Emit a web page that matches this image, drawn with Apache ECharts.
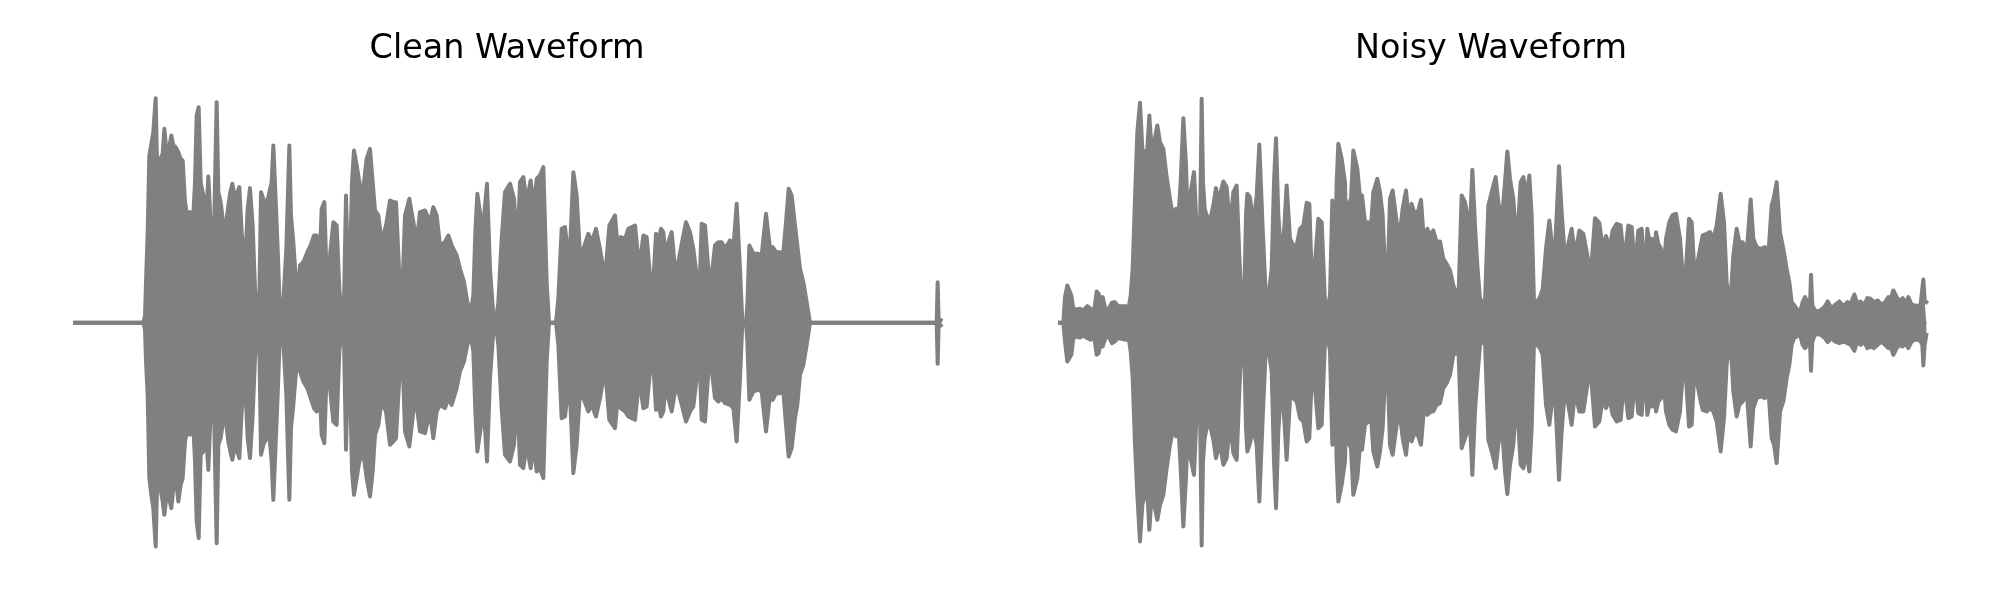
<!DOCTYPE html>
<html><head><meta charset="utf-8">
<script src="https://cdn.jsdelivr.net/npm/echarts@6/dist/echarts.min.js"></script>
<style>html,body{margin:0;padding:0;background:#fff}#c{width:2000px;height:600px}</style>
</head><body><div id="c"></div>
<script>
const titles = ['Clean Waveform', 'Noisy Waveform'];

// Clean waveform envelope (frame index, upper peak, lower peak)
const cleanT = [0,205,210,213,218,223,229,235,242,248,253,258,263,268,275,282,289,295,302,310,317,323,330,338,345,353,360,365,371,377,385,393,400,407,415,420,425,430,437,445,453,460,466,472,480,487,493,500,510,518,525,533,540,547,553,558,565,575,583,590,595,601,608,615,621,626,634,639,643,648,655,663,669,675,685,697,707,717,725,733,740,748,755,765,775,785,793,800,806,810,813,818,825,831,837,845,853,860,867,875,885,893,900,910,920,933,945,955,963,973,981,990,1003,1015,1025,1035,1050,1065,1075,1085,1095,1110,1120,1130,1145,1155,1167,1177,1187,1195,1201,1207,1217,1227,1236,1245,1255,1262,1270,1280,1290,1305,1317,1327,1335,1345,1355,1367,1377,1385,1395,1405,1415,1422,1443,1450,1460,1470,1483,1495,1505,1515,1525,1540,1550,1563,1575,1590,1603,1620,1630,1637,1650,1660,1680,1693,1705,1715,1725,1735,1743,1750,1758,1765,1773,1780,1790,1800,1810,1823,1833,1845,1855,1865,1873,1880,1890,1900,1910,1920,1930,1940,1950,1965,1975,1985,1995,2002,2013,2017,2023,2035,2050,2060,2073,2085,2093,2103,2115,2125,2133,2141,2150,2160,2167,2175,2185,2195,2205,2585,2588,2591,2597];
const cleanUpper = [0,0,20,122,272,502,537,572,674,392,372,497,507,582,507,522,562,532,527,512,492,487,362,312,332,282,422,622,647,422,382,302,439,292,162,422,662,392,362,297,292,352,392,417,372,392,407,272,162,342,404,292,102,22,72,392,372,352,392,422,532,392,222,22,0,82,222,392,532,322,242,122,82,172,182,212,232,262,262,162,342,362,132,202,302,292,102,22,0,222,382,182,162,422,517,472,422,372,422,492,522,422,337,322,242,292,367,362,362,142,62,322,372,302,242,332,337,302,347,322,232,242,262,232,202,162,122,62,32,82,272,387,317,317,417,162,22,0,62,252,392,417,372,222,422,437,362,427,342,432,442,467,122,0,0,72,282,287,172,452,382,202,222,267,242,282,222,132,292,322,202,257,252,282,292,162,262,257,142,122,267,242,282,272,172,242,272,162,182,252,302,272,222,142,82,297,292,162,142,232,242,242,222,247,222,357,162,0,0,52,232,207,207,202,327,222,227,212,212,212,302,402,382,292,232,162,122,62,0,0,122,0,8];
const cleanLower = [0,0,-20,-116,-216,-466,-516,-556,-671,-416,-466,-506,-536,-576,-516,-526,-556,-496,-456,-536,-486,-466,-356,-316,-336,-266,-416,-596,-646,-396,-386,-326,-441,-266,-146,-416,-661,-366,-346,-291,-296,-356,-386,-411,-366,-386,-406,-266,-166,-346,-406,-276,-106,-26,-66,-396,-366,-346,-336,-416,-531,-386,-216,-26,0,-76,-216,-396,-531,-316,-246,-146,-96,-146,-176,-196,-226,-256,-266,-166,-336,-361,-146,-196,-296,-306,-86,-26,0,-216,-381,-166,-166,-446,-516,-466,-416,-396,-406,-466,-521,-446,-336,-306,-236,-266,-366,-356,-346,-166,-56,-326,-371,-266,-246,-326,-331,-266,-346,-266,-246,-256,-226,-246,-196,-146,-116,-66,-36,-86,-266,-386,-316,-266,-416,-166,-26,0,-66,-256,-396,-416,-366,-216,-426,-436,-366,-436,-366,-446,-436,-466,-116,0,0,-66,-286,-281,-166,-451,-366,-206,-226,-266,-246,-281,-226,-136,-291,-316,-206,-256,-266,-281,-291,-166,-256,-251,-146,-126,-261,-246,-281,-266,-166,-226,-266,-206,-206,-256,-296,-266,-251,-166,-86,-291,-296,-146,-141,-226,-236,-226,-241,-246,-256,-356,-166,0,0,-56,-231,-206,-201,-206,-326,-216,-231,-211,-211,-206,-306,-401,-376,-286,-246,-156,-126,-66,0,0,-123,0,-8];

// Noisy waveform envelope (frame index, upper peak, lower peak)
const noisyT = [0,10,15,22,28,34,40,50,60,70,82,92,102,110,116,122,128,136,146,156,164,174,185,198,207,212,218,225,232,240,247,255,262,268,275,285,292,300,310,320,330,340,348,355,362,370,378,385,392,402,410,418,422,425,429,434,440,450,460,468,475,482,490,500,510,520,530,538,545,552,558,562,570,580,590,598,608,618,625,635,642,648,655,665,672,680,690,700,710,720,730,740,748,755,765,775,785,795,802,810,817,825,830,835,845,855,862,868,873,880,886,892,900,906,915,925,932,940,952,960,968,975,982,990,998,1010,1020,1028,1038,1045,1055,1065,1075,1083,1092,1102,1112,1120,1130,1140,1150,1160,1170,1180,1188,1196,1205,1215,1222,1230,1237,1245,1252,1260,1268,1275,1285,1295,1307,1315,1325,1335,1342,1350,1360,1370,1382,1390,1400,1408,1415,1422,1430,1440,1448,1458,1468,1475,1482,1490,1497,1505,1515,1525,1535,1545,1558,1570,1582,1592,1605,1618,1628,1638,1648,1658,1670,1682,1692,1705,1715,1725,1735,1745,1755,1762,1768,1775,1782,1788,1795,1803,1810,1818,1828,1838,1848,1860,1870,1878,1887,1895,1902,1910,1920,1928,1940,1950,1960,1970,1982,1992,2000,2008,2015,2020,2030,2038,2048,2060,2072,2080,2090,2102,2115,2125,2135,2142,2150,2160,2170,2180,2188,2195,2202,2210,2220,2228,2235,2243,2250,2253,2257,2265,2275,2285,2295,2303,2315,2325,2338,2350,2362,2372,2383,2392,2402,2412,2422,2432,2442,2453,2465,2475,2485,2492,2500,2510,2520,2528,2536,2545,2555,2565,2575,2582,2587,2590,2594,2599];
const noisyUpper = [0,0,77,112,117,82,42,40,42,37,50,42,32,94,87,57,77,42,42,60,62,50,50,50,50,82,162,372,572,660,522,502,522,622,512,557,592,542,522,437,372,312,342,312,422,614,472,252,392,452,282,122,422,672,422,342,322,307,352,404,362,392,424,407,282,392,412,202,57,42,322,387,377,292,382,535,282,72,72,162,422,554,322,182,272,412,252,232,232,282,292,360,357,142,182,312,302,62,42,82,367,162,422,537,492,422,122,362,372,517,522,462,377,382,302,302,272,392,432,392,322,162,102,372,397,302,272,342,397,322,357,322,337,369,242,282,262,277,242,244,192,177,157,112,92,92,382,362,322,282,459,292,172,72,62,62,352,392,437,362,302,422,514,432,372,222,422,437,382,442,322,62,62,77,102,222,307,242,162,322,470,332,192,237,282,202,277,267,202,142,314,300,222,260,222,277,297,292,182,292,287,162,277,282,122,282,242,252,202,272,237,222,142,252,302,324,327,252,122,162,312,302,172,167,222,262,267,272,252,292,387,302,122,50,122,202,282,242,242,212,370,252,227,222,227,202,352,377,422,272,222,162,122,62,54,42,32,62,77,62,52,144,52,37,34,40,50,64,42,54,64,50,62,57,85,57,64,52,74,72,62,67,54,62,77,72,97,77,64,74,57,77,54,52,50,57,62,130,67,62];
const noisyLower = [0,0,-56,-116,-114,-96,-46,-41,-44,-38,-46,-51,-36,-96,-91,-56,-71,-46,-41,-61,-56,-46,-48,-51,-51,-86,-166,-366,-516,-656,-546,-516,-506,-621,-516,-556,-591,-546,-516,-436,-366,-316,-341,-306,-436,-611,-466,-266,-406,-456,-266,-96,-416,-668,-416,-346,-316,-306,-351,-406,-376,-376,-426,-406,-296,-391,-411,-206,-56,-46,-316,-386,-361,-316,-366,-536,-286,-66,-76,-146,-416,-556,-326,-176,-276,-411,-226,-226,-236,-286,-296,-356,-346,-166,-196,-316,-306,-56,-36,-86,-366,-166,-416,-536,-486,-416,-116,-366,-376,-516,-518,-466,-366,-381,-306,-296,-266,-386,-431,-386,-316,-166,-116,-366,-396,-306,-276,-346,-396,-326,-356,-326,-341,-366,-256,-276,-266,-266,-246,-241,-196,-181,-156,-96,-91,-96,-376,-346,-326,-296,-456,-266,-166,-66,-56,-56,-351,-386,-436,-366,-296,-446,-514,-426,-366,-216,-426,-436,-386,-446,-316,-56,-66,-76,-96,-246,-306,-246,-156,-316,-471,-326,-196,-246,-306,-206,-266,-266,-186,-146,-311,-296,-226,-256,-226,-276,-296,-291,-176,-286,-281,-166,-271,-276,-126,-276,-246,-251,-216,-266,-236,-226,-166,-266,-306,-321,-326,-266,-126,-166,-311,-306,-166,-171,-226,-261,-266,-256,-266,-296,-386,-286,-126,-51,-116,-206,-281,-246,-236,-206,-371,-256,-226,-221,-226,-196,-346,-366,-421,-266,-236,-166,-126,-66,-46,-41,-36,-66,-76,-66,-56,-144,-56,-36,-34,-38,-46,-58,-46,-56,-61,-56,-61,-66,-84,-56,-66,-56,-76,-71,-76,-66,-56,-66,-76,-71,-96,-76,-66,-71,-61,-76,-56,-51,-51,-56,-66,-128,-66,-36];

const gray = '#808080';
function pairs(t, v) { return t.map((x, i) => [x, v[i]]); }
function wave(idx, t, v, origin) {
  return {
    type: 'line', xAxisIndex: idx, yAxisIndex: idx, data: pairs(t, v),
    showSymbol: false, symbol: 'none', silent: true, clip: false, animation: false,
    lineStyle: { color: gray, width: 4, join: 'round', cap: 'square' },
    areaStyle: { color: gray, opacity: 1, origin: origin },
    itemStyle: { color: gray }
  };
}
const titleStyle = { fontFamily: 'DejaVu Sans', fontSize: 33.4, fontWeight: 'normal', color: '#000' };
const chart = echarts.init(document.getElementById('c'), null, { renderer: 'canvas' });
chart.setOption({
  backgroundColor: '#fff',
  animation: false,
  title: [
    { text: titles[0], left: 507, top: 33, textAlign: 'center', padding: 0, textStyle: titleStyle },
    { text: titles[1], left: 1491, top: 33, textAlign: 'center', padding: 0, textStyle: titleStyle }
  ],
  grid: [
    { left: 75, top: 92.8, width: 866.67, height: 460 },
    { left: 1060, top: 92.8, width: 866.67, height: 460 }
  ],
  xAxis: [
    { type: 'value', gridIndex: 0, min: 0, max: 2600, show: false },
    { type: 'value', gridIndex: 1, min: 0, max: 2600, show: false }
  ],
  yAxis: [
    { type: 'value', gridIndex: 0, min: -690, max: 690, show: false },
    { type: 'value', gridIndex: 1, min: -690, max: 690, show: false }
  ],
  series: [
    wave(0, cleanT, cleanUpper, -4), wave(0, cleanT, cleanLower, 4),
    wave(1, noisyT, noisyUpper, -4), wave(1, noisyT, noisyLower, 4)
  ]
});
</script></body></html>
